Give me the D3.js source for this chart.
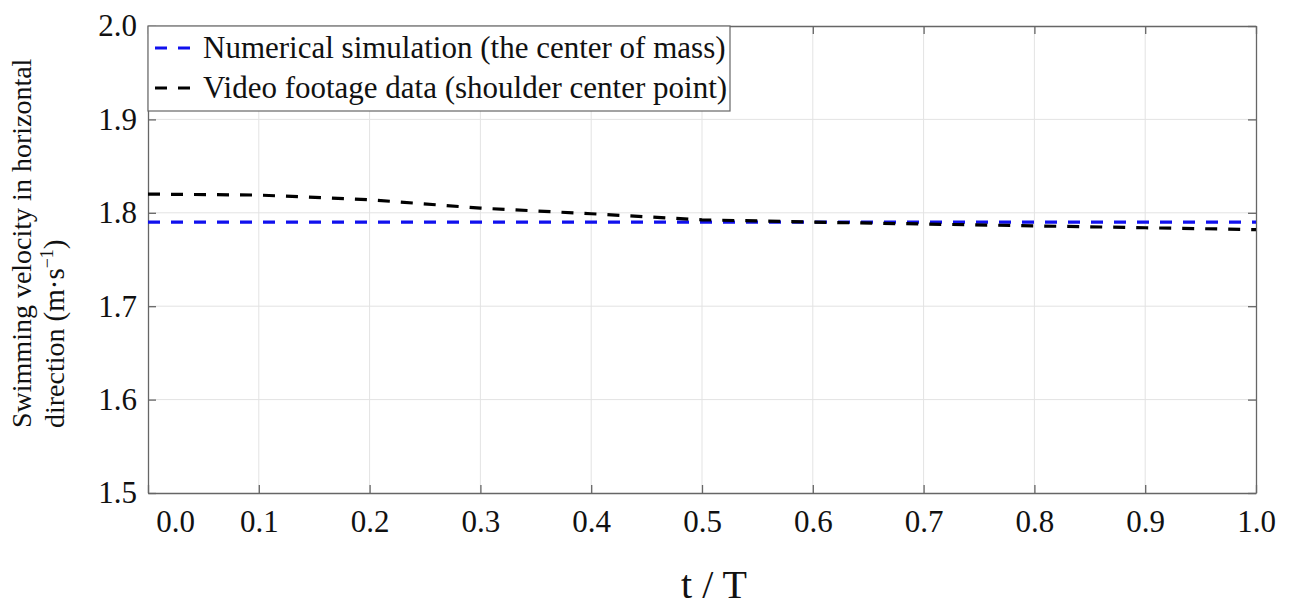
<!DOCTYPE html>
<html><head><meta charset="utf-8">
<script src="https://cdn.jsdelivr.net/npm/d3@7"></script>
<style>body{margin:0;background:#fff;} text{font-family:"Liberation Serif","Times New Roman",serif;}</style>
</head><body>
<svg id="c" width="1294" height="609"></svg>
<script>
const tValues = [0.0,0.1,0.2,0.3,0.4,0.5,0.6,0.7,0.8,0.9,1.0];
const numericalSim = [1.790,1.790,1.790,1.790,1.790,1.790,1.790,1.790,1.790,1.790,1.790];
const videoData = [1.820,1.819,1.814,1.805,1.799,1.7925,1.790,1.788,1.786,1.784,1.782];
const xTicks = [0.0,0.1,0.2,0.3,0.4,0.5,0.6,0.7,0.8,0.9,1.0];
const yTicks = [1.5,1.6,1.7,1.8,1.9,2.0];
const legendLabels = ["Numerical simulation (the center of mass)","Video footage data (shoulder center point)"];

const svg = d3.select("#c");
const L=148,R=1256,T=26,B=493;
const x = d3.scaleLinear().domain([0,1]).range([L,R]);
const y = d3.scaleLinear().domain([1.5,2.0]).range([B,T]);

// grid
const g = svg.append("g");
g.selectAll(".gx").data(xTicks.slice(1,-1)).enter().append("line")
 .attr("x1",d=>x(d)).attr("x2",d=>x(d)).attr("y1",T).attr("y2",B)
 .attr("stroke","#e3e3e3").attr("stroke-width",1);
g.selectAll(".gy").data(yTicks.slice(1,-1)).enter().append("line")
 .attr("y1",d=>y(d)).attr("y2",d=>y(d)).attr("x1",L).attr("x2",R)
 .attr("stroke","#e3e3e3").attr("stroke-width",1);

// axes
const fmt = d3.format(".1f");
const ax = svg.append("g").attr("transform",`translate(0,${B})`)
 .call(d3.axisBottom(x).tickValues(xTicks).tickFormat(fmt).tickSizeInner(-8).tickSizeOuter(0).tickPadding(17));
const ay = svg.append("g").attr("transform",`translate(${L},0)`)
 .call(d3.axisLeft(y).tickValues(yTicks).tickFormat(fmt).tickSizeInner(-8).tickSizeOuter(0).tickPadding(11));
const at = svg.append("g").attr("transform",`translate(0,${T})`)
 .call(d3.axisTop(x).tickValues(xTicks).tickFormat("").tickSizeInner(-8).tickSizeOuter(0));
const ar = svg.append("g").attr("transform",`translate(${R},0)`)
 .call(d3.axisRight(y).tickValues(yTicks).tickFormat("").tickSizeInner(-8).tickSizeOuter(0));
[ax,ay,at,ar].forEach(a=>{
  a.selectAll("path").attr("stroke","#666").attr("stroke-width",1.3);
  a.selectAll("line").attr("stroke","#666").attr("stroke-width",1.3);
  a.selectAll("text").attr("font-size",31).attr("fill","#111").style("font-family","Liberation Serif, serif");
});
ax.selectAll(".tick text").filter(d=>d===0).attr("dx",27);

// lines
const line = d3.line().x((d,i)=>x(tValues[i])).y(d=>y(d));
svg.append("path").datum(numericalSim).attr("d",line).attr("fill","none")
 .attr("stroke","#1010ee").attr("stroke-width",3.2).attr("stroke-dasharray","12,11");
svg.append("path").datum(videoData).attr("d",line).attr("fill","none")
 .attr("stroke","#000").attr("stroke-width",3.2).attr("stroke-dasharray","12,11");

// legend
const lg = svg.append("g");
lg.append("rect").attr("x",L).attr("y",T).attr("width",582).attr("height",85)
 .attr("fill","#fff").attr("stroke","#666").attr("stroke-width",1.2);
const lcol = ["#1010ee","#000"];
legendLabels.forEach((t,i)=>{
  const yy = T+22+i*40;
  lg.append("line").attr("x1",155).attr("x2",193).attr("y1",yy).attr("y2",yy)
    .attr("stroke",lcol[i]).attr("stroke-width",3.2).attr("stroke-dasharray","12,11");
  lg.append("text").attr("x",203).attr("y",yy+10).attr("font-size",31).attr("fill","#111").text(t);
});

// axis titles
svg.append("text").attr("x",714).attr("y",598).attr("text-anchor","middle").attr("font-size",40).attr("fill","#111").text("t / T");
const yt = svg.append("text").attr("transform","translate(31,428) rotate(-90)").attr("font-size",28).attr("fill","#111");
yt.append("tspan").attr("x",0).attr("y",0).text("Swimming velocity in horizontal");
yt.append("tspan").attr("x",0).attr("y",33).text("direction ");
yt.append("tspan").attr("font-size",29).text("(m·s");
yt.append("tspan").attr("font-size",18).attr("dy",-11).text("−1");
yt.append("tspan").attr("font-size",29).attr("dy",11).text(")");
</script>
</body></html>
